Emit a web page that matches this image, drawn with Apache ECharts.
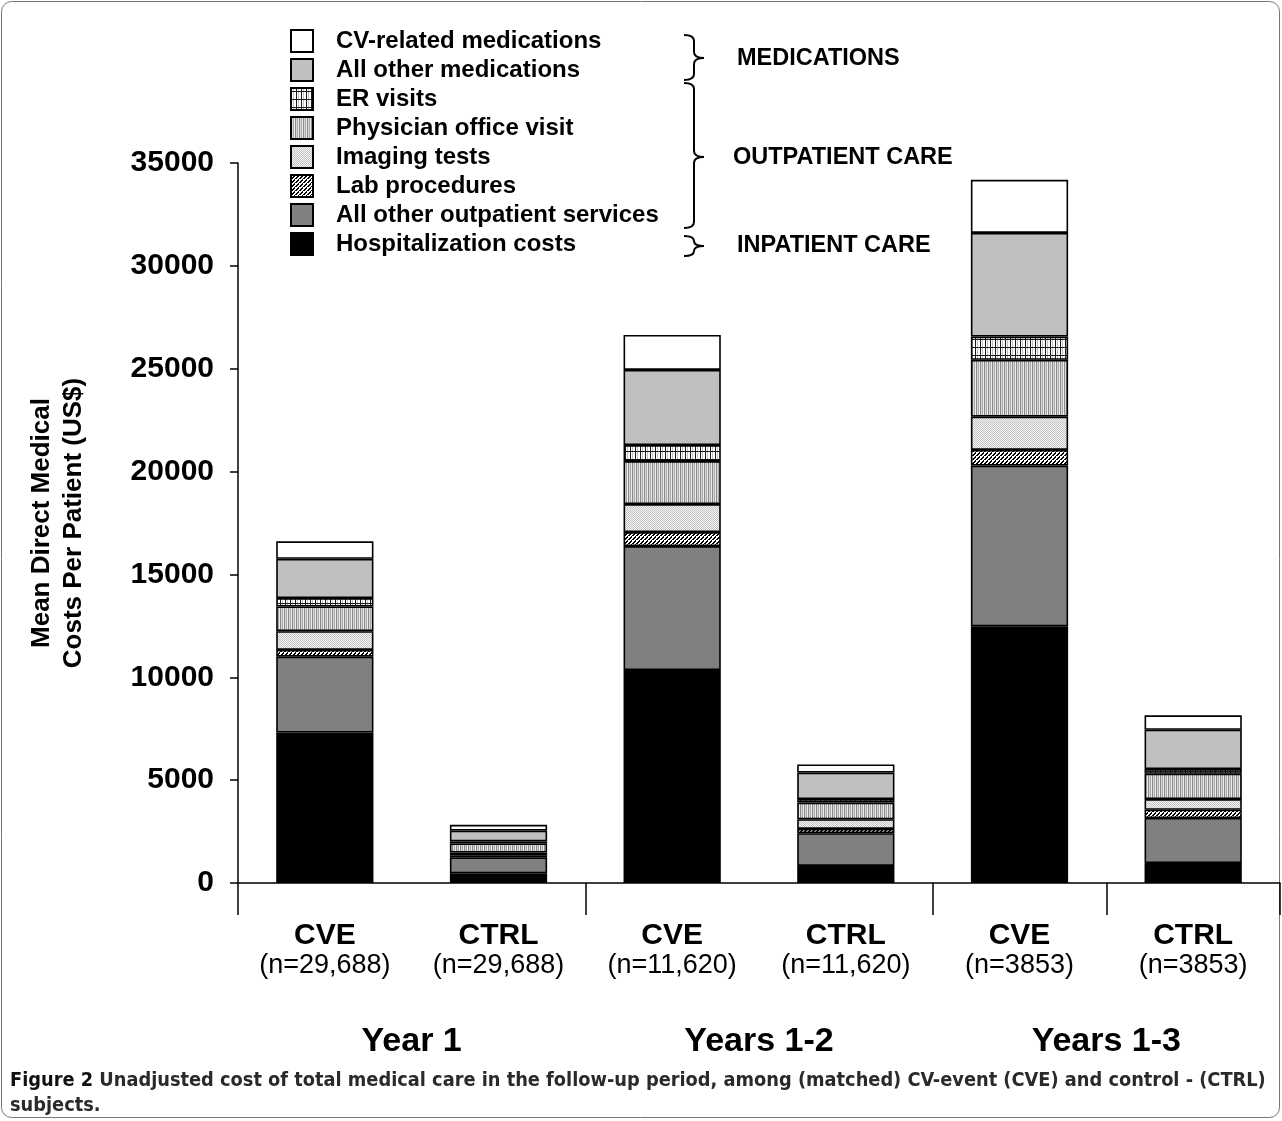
<!DOCTYPE html>
<html>
<head>
<meta charset="utf-8">
<script src="https://cdn.jsdelivr.net/npm/echarts@6/dist/echarts.min.js"></script>
<style>
html,body{margin:0;padding:0;background:#fff;}
#chart{width:1282px;height:1121px;}
</style>
</head>
<body>
<div id="chart"></div>
<script>
// ---- data ----
var categories = ['CVE', 'CTRL', 'CVE', 'CTRL', 'CVE', 'CTRL'];
var sampleSizes = ['(n=29,688)', '(n=29,688)', '(n=11,620)', '(n=11,620)', '(n=3853)', '(n=3853)'];
var periods = ['Year 1', 'Years 1-2', 'Years 1-3'];
var yTicks = [0, 5000, 10000, 15000, 20000, 25000, 30000, 35000];

var hospitalization  = [7310, 470, 10350, 830, 12480, 970];
var otherOutpatient  = [3690, 780, 6030, 1590, 7810, 2190];
var labProcedures    = [330, 100, 680, 210, 760, 400];
var imagingTests     = [910, 130, 1360, 470, 1620, 520];
var physicianVisits  = [1200, 440, 2090, 810, 2760, 1230];
var erVisits         = [410, 100, 780, 170, 1130, 230];
var otherMedications = [1910, 530, 3650, 1290, 5040, 1910];
var cvMedications    = [850, 280, 1700, 390, 2580, 700];

var seriesNames = ['Hospitalization costs', 'All other outpatient services', 'Lab procedures',
  'Imaging tests', 'Physician office visit', 'ER visits', 'All other medications', 'CV-related medications'];
var seriesValues = [hospitalization, otherOutpatient, labProcedures, imagingTests,
  physicianVisits, erVisits, otherMedications, cvMedications];

var groupLabels = ['MEDICATIONS', 'OUTPATIENT CARE', 'INPATIENT CARE'];
var captionLead = 'Figure 2';
var captionText = ' Unadjusted cost of total medical care in the follow-up period, among (matched) CV-event (CVE) and control - (CTRL)';
var captionTail = 'subjects.';

// ---- fill patterns ----
function makePattern(w, h, draw) {
  var c = document.createElement('canvas');
  c.width = w; c.height = h;
  var ctx = c.getContext('2d');
  draw(ctx, w, h);
  return { image: c, repeat: 'repeat' };
}
var erPattern = makePattern(5, 8, function (ctx, w, h) {
  ctx.fillStyle = '#ffffff'; ctx.fillRect(0, 0, w, h);
  ctx.fillStyle = '#c0c0c0'; ctx.fillRect(2, 0, 1, h);
  ctx.fillStyle = '#1a1a1a'; ctx.fillRect(0, 0, 1, h); ctx.fillRect(0, 3, w, 1);
});
var physPattern = makePattern(4, 4, function (ctx, w, h) {
  var cols = ['#8a8a8a', '#d8d8d8', '#a8a8a8', '#ececec'];
  for (var i = 0; i < 4; i++) { ctx.fillStyle = cols[i]; ctx.fillRect(i, 0, 1, h); }
});
var imgPattern = makePattern(2, 2, function (ctx, w, h) {
  ctx.fillStyle = '#f4f4f4'; ctx.fillRect(0, 0, 2, 2);
  ctx.fillStyle = '#c4c4c4'; ctx.fillRect(0, 0, 1, 1); ctx.fillRect(1, 1, 1, 1);
});
var labPattern = makePattern(4, 4, function (ctx, w, h) {
  ctx.fillStyle = '#ffffff'; ctx.fillRect(0, 0, 4, 4);
  ctx.fillStyle = '#000000';
  for (var i = 0; i < 4; i++) { ctx.fillRect(3 - i, i, 2, 1); }
  ctx.fillRect(0, 3, 1, 1);
});
var fills = ['#000000', '#808080', labPattern, imgPattern, physPattern, erPattern, '#c0c0c0', '#ffffff'];

var FONT = '"Liberation Sans", Arial, Helvetica, sans-serif';
var CAPFONT = '"DejaVu Sans Condensed", "Liberation Sans Narrow", sans-serif';

var series = seriesNames.map(function (name, i) {
  return {
    name: name,
    type: 'bar',
    stack: 'total',
    barWidth: '56%',
    data: seriesValues[i],
    itemStyle: { color: fills[i], borderColor: '#000', borderWidth: 1.6 },
    emphasis: { disabled: true },
    animation: false
  };
});

// ---- brace shapes (group of curves and lines) ----
function brace(x0, y1, y2, ym, w) {
  var xm = x0 + w * 0.5, r = Math.min(6, (y2 - y1) / 4);
  var st = { stroke: '#000', fill: null, lineWidth: 2 };
  var parts = [
    { type: 'bezierCurve', shape: { x1: x0, y1: y1, x2: xm, y2: y1 + r, cpx1: xm, cpy1: y1 }, style: st },
    { type: 'line', shape: { x1: xm, y1: y1 + r, x2: xm, y2: ym - r }, style: st },
    { type: 'bezierCurve', shape: { x1: xm, y1: ym - r, x2: x0 + w, y2: ym, cpx1: xm, cpy1: ym }, style: st },
    { type: 'bezierCurve', shape: { x1: x0 + w, y1: ym, x2: xm, y2: ym + r, cpx1: xm, cpy1: ym }, style: st },
    { type: 'line', shape: { x1: xm, y1: ym + r, x2: xm, y2: y2 - r }, style: st },
    { type: 'bezierCurve', shape: { x1: xm, y1: y2 - r, x2: x0, y2: y2, cpx1: xm, cpy1: y2 }, style: st }
  ];
  return { type: 'group', children: parts, silent: true };
}
var braceDefs = [[684, 35, 80, 58], [684, 83, 228, 157], [684, 236, 256, 246]];
var graphics = braceDefs.map(function (b) { return brace(b[0], b[1], b[2], b[3], 20); });
graphics.push({ type: 'text', style: { x: 737, y: 59, text: groupLabels[0], font: 'bold 23.5px ' + FONT, fill: '#000', verticalAlign: 'middle' } });
graphics.push({ type: 'text', style: { x: 733, y: 158, text: groupLabels[1], font: 'bold 23.5px ' + FONT, fill: '#000', verticalAlign: 'middle' } });
graphics.push({ type: 'text', style: { x: 737, y: 246, text: groupLabels[2], font: 'bold 23.5px ' + FONT, fill: '#000', verticalAlign: 'middle' } });
graphics.push({
  type: 'rect', shape: { x: 1.5, y: 1.5, width: 1278, height: 1116, r: 10 },
  style: { stroke: '#777', fill: null, lineWidth: 1 }, silent: true, z: -1
});
graphics.push({
  type: 'text',
  style: {
    x: 10, y: 1068,
    text: '{a|' + captionLead + '}{b|' + captionText + '}\n{b|' + captionTail + '}',
    rich: {
      a: { font: 'bold 19.8px ' + CAPFONT, fill: '#111', lineHeight: 25 },
      b: { font: 'bold 19.8px ' + CAPFONT, fill: '#2a2a2a', lineHeight: 25 }
    }
  }
});

var chart = echarts.init(document.getElementById('chart'), null, { renderer: 'canvas' });
chart.setOption({
  backgroundColor: '#ffffff',
  animation: false,
  grid: { left: 238, right: 2, top: 163, bottom: 238, containLabel: false },
  legend: {
    data: seriesNames.slice().reverse(),
    orient: 'vertical',
    left: 290, top: 29, padding: 0,
    itemWidth: 22, itemHeight: 22, itemGap: 5,
    icon: 'rect',
    selectedMode: false,
    textStyle: { fontFamily: FONT, fontWeight: 'bold', fontSize: 24, color: '#000', padding: [0, 0, 0, 18] }
  },
  xAxis: [{
    type: 'category',
    data: categories,
    position: 'bottom',
    axisLine: { lineStyle: { color: '#000', width: 1.5 } },
    axisTick: { show: true, interval: 1, length: 32, lineStyle: { color: '#000', width: 1.5 } },
    axisLabel: {
      margin: 38,
      interval: 0,
      formatter: function (v, i) { return '{b|' + v + '}\n{n|' + sampleSizes[i] + '}'; },
      rich: {
        b: { fontFamily: FONT, fontWeight: 'bold', fontSize: 30, color: '#000', lineHeight: 30 },
        n: { fontFamily: FONT, fontSize: 27, color: '#000', lineHeight: 30 }
      }
    }
  }, {
    type: 'category',
    data: periods,
    position: 'bottom',
    offset: 138,
    axisLine: { show: false },
    axisTick: { show: false },
    axisLabel: { fontFamily: FONT, fontWeight: 'bold', fontSize: 34, color: '#000', margin: 4 }
  }],
  yAxis: {
    type: 'value',
    min: 0, max: 35000, interval: 5000,
    name: 'Mean Direct Medical\nCosts Per Patient (US$)',
    nameLocation: 'middle',
    nameRotate: 90,
    nameGap: 148,
    nameTextStyle: { fontFamily: FONT, fontWeight: 'bold', fontSize: 26, color: '#000', lineHeight: 32 },
    axisLine: { show: true, lineStyle: { color: '#000', width: 1.5 } },
    axisTick: { show: true, length: 8, lineStyle: { color: '#000', width: 1.5 } },
    splitLine: { show: false },
    axisLabel: { fontFamily: FONT, fontWeight: 'bold', fontSize: 30, color: '#000', margin: 24,
      formatter: function (v) { return yTicks.indexOf(v) >= 0 ? String(v) : ''; } }
  },
  series: series,
  graphic: graphics
});
</script>
</body>
</html>
